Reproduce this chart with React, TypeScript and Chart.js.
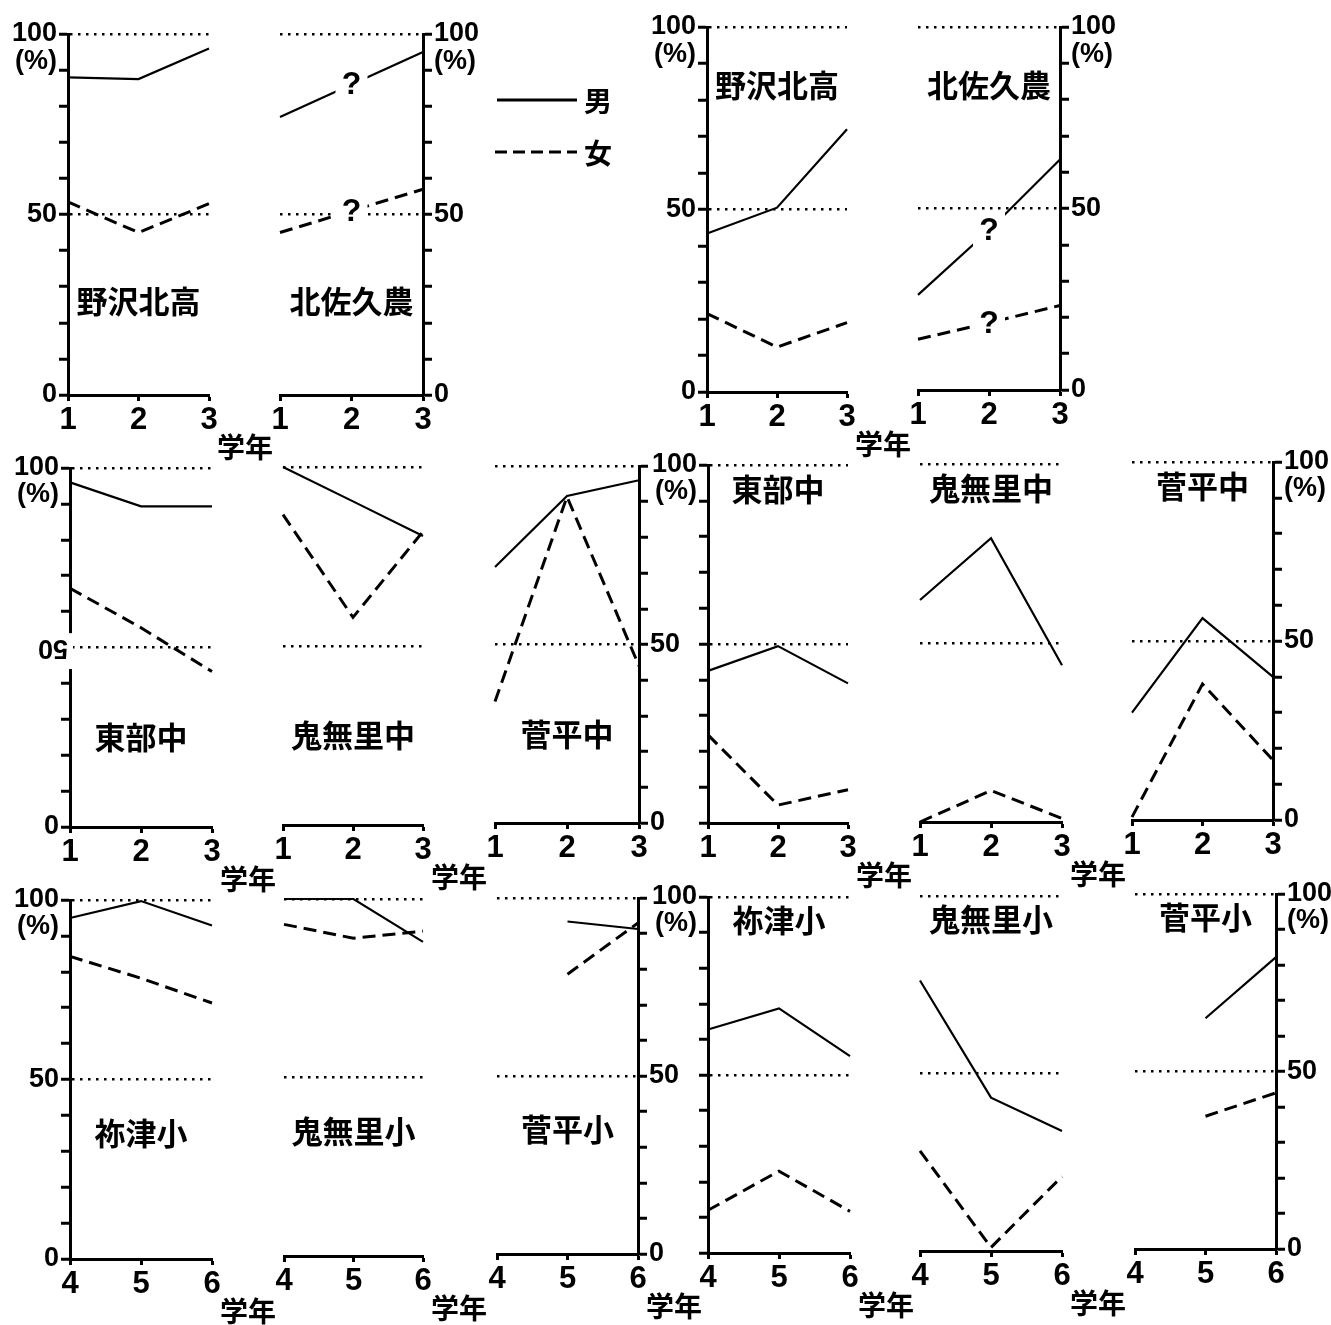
import React, { useEffect, useRef } from 'react';
import { Chart, registerables } from 'chart.js';

Chart.register(...registerables);

// ---------- categories / tick labels ----------
const gradesUpper = ['1', '2', '3'];
const gradesLower = ['4', '5', '6'];
const yTickValues = [0, 10, 20, 30, 40, 50, 60, 70, 80, 90, 92.5, 100];
const referenceLines = [50, 100];
const labelsFull: Record<string, string> = { '100': '100', '92.5': '(%)', '50': '50', '0': '0' };
const labelsTop: Record<string, string> = { '100': '100', '92.5': '(%)' };
const labelsBottom: Record<string, string> = { '50': '50', '0': '0' };
const labelsNo50: Record<string, string> = { '100': '100', '92.5': '(%)', '0': '0' };

// ---------- series values (%) ----------
// top-left figure
const f1NozawaMale = [88, 87.5, 96];
const f1NozawaFemale = [53.5, 45, 53];
const f1KitasakuMale = [77, 86, 95];
const f1KitasakuFemale = [45, 51, 57];
// top-right figure
const f2NozawaMale = [43.4, 50.5, 72];
const f2NozawaFemale = [21.5, 12.3, 19];
const f2KitasakuMale = [26.2, 44, 63.5];
const f2KitasakuFemale = [14, 18.5, 23.3];
// middle-left figure
const f3TobuMale = [96, 89.3, 89.3];
const f3TobuFemale = [66.5, 55.5, 43.3];
const f3KinasaMale = [100, 90.4, 80.7];
const f3KinasaFemale = [86.7, 58, 82];
const f3SugadairaMale = [71.7, 91.6, 96];
const f3SugadairaFemale = [34, 91.4, 44];
// middle-right figure
const f4TobuMale = [42.5, 49.4, 39];
const f4TobuFemale = [24.6, 5, 9.3];
const f4KinasaMale = [62, 79.3, 43.8];
const f4KinasaFemale = [0, 8.8, 1];
const f4SugadairaMale = [30, 56.4, 40];
const f4SugadairaFemale = [0.8, 38, 16.7];
// bottom-left figure
const f5NetsuMale = [95, 99.7, 92.9];
const f5NetsuFemale = [84.3, 78.2, 71.3];
const f5KinasaMale = [100, 100, 88];
const f5KinasaFemale = [92.9, 89, 91];
const f5SugadairaMale = [null, 93.4, 91.3];
const f5SugadairaFemale = [null, 78.6, 93];
// bottom-right figure
const f6NetsuMale = [62.8, 68.7, 55.3];
const f6NetsuFemale = [12, 23, 11.7];
const f6KinasaMale = [76.2, 43.2, 33.8];
const f6KinasaFemale = [28.2, 1, 21];
const f6SugadairaMale = [null, 65, 82.2];
const f6SugadairaFemale = [null, 37.4, 44];

// ---------- fonts ----------
const NUM_FONT = "'Liberation Sans', 'DejaVu Sans Condensed', sans-serif";
const JP_FONT = "'Noto Sans CJK JP', 'Noto Sans CJK SC', sans-serif";

type Axis = 'left' | 'right' | 'none';
type Panel = {
  labels: string[];
  male: (number | null)[];
  female: (number | null)[];
  name: string;
  nameAt: number;
  x1: number; x2: number; yTop: number; yBot: number;
  axis: Axis;
  tickLabels?: Record<string, string>;
  xTitle?: boolean;
  ask?: boolean;
  flip50?: boolean;
};

const PANELS: Panel[] = [
  // top-left
  { labels: gradesUpper, male: f1NozawaMale, female: f1NozawaFemale, name: '野沢北高', nameAt: 26,
    x1: 68, x2: 209, yTop: 34, yBot: 395, axis: 'left', tickLabels: labelsFull, xTitle: true },
  { labels: gradesUpper, male: f1KitasakuMale, female: f1KitasakuFemale, name: '北佐久農', nameAt: 26,
    x1: 280, x2: 423, yTop: 34, yBot: 395, axis: 'right', tickLabels: labelsFull, ask: true },
  // top-right
  { labels: gradesUpper, male: f2NozawaMale, female: f2NozawaFemale, name: '野沢北高', nameAt: 84,
    x1: 707, x2: 847, yTop: 27, yBot: 392, axis: 'left', tickLabels: labelsFull, xTitle: true },
  { labels: gradesUpper, male: f2KitasakuMale, female: f2KitasakuFemale, name: '北佐久農', nameAt: 84,
    x1: 918, x2: 1060, yTop: 27, yBot: 390, axis: 'right', tickLabels: labelsFull, ask: true },
  // middle-left
  { labels: gradesUpper, male: f3TobuMale, female: f3TobuFemale, name: '東部中', nameAt: 25,
    x1: 70, x2: 212, yTop: 468, yBot: 827, axis: 'left', tickLabels: labelsNo50, xTitle: true, flip50: true },
  { labels: gradesUpper, male: f3KinasaMale, female: f3KinasaFemale, name: '鬼無里中', nameAt: 25,
    x1: 283, x2: 423, yTop: 467, yBot: 825, axis: 'none', xTitle: true },
  { labels: gradesUpper, male: f3SugadairaMale, female: f3SugadairaFemale, name: '菅平中', nameAt: 25,
    x1: 495, x2: 639, yTop: 466, yBot: 823, axis: 'right', tickLabels: labelsBottom },
  // middle-right
  { labels: gradesUpper, male: f4TobuMale, female: f4TobuFemale, name: '東部中', nameAt: 93.3,
    x1: 708, x2: 848, yTop: 465, yBot: 823, axis: 'left', tickLabels: labelsTop, xTitle: true },
  { labels: gradesUpper, male: f4KinasaMale, female: f4KinasaFemale, name: '鬼無里中', nameAt: 93.3,
    x1: 920, x2: 1062, yTop: 464, yBot: 822, axis: 'none', xTitle: true },
  { labels: gradesUpper, male: f4SugadairaMale, female: f4SugadairaFemale, name: '菅平中', nameAt: 93.3,
    x1: 1132, x2: 1273, yTop: 462, yBot: 820, axis: 'right', tickLabels: labelsFull },
  // bottom-left
  { labels: gradesLower, male: f5NetsuMale, female: f5NetsuFemale, name: '祢津小', nameAt: 35,
    x1: 70, x2: 212, yTop: 900, yBot: 1259, axis: 'left', tickLabels: labelsFull, xTitle: true },
  { labels: gradesLower, male: f5KinasaMale, female: f5KinasaFemale, name: '鬼無里小', nameAt: 35,
    x1: 284, x2: 423, yTop: 899, yBot: 1256, axis: 'none', xTitle: true },
  { labels: gradesLower, male: f5SugadairaMale, female: f5SugadairaFemale, name: '菅平小', nameAt: 35,
    x1: 497, x2: 638, yTop: 898, yBot: 1254, axis: 'right', tickLabels: labelsBottom, xTitle: true },
  // bottom-right
  { labels: gradesLower, male: f6NetsuMale, female: f6NetsuFemale, name: '祢津小', nameAt: 93.6,
    x1: 708, x2: 850, yTop: 897, yBot: 1253, axis: 'left', tickLabels: labelsTop, xTitle: true },
  { labels: gradesLower, male: f6KinasaMale, female: f6KinasaFemale, name: '鬼無里小', nameAt: 93.6,
    x1: 920, x2: 1062, yTop: 896, yBot: 1251, axis: 'none', xTitle: true },
  { labels: gradesLower, male: f6SugadairaMale, female: f6SugadairaFemale, name: '菅平小', nameAt: 93.6,
    x1: 1135, x2: 1276, yTop: 894, yBot: 1249, axis: 'right', tickLabels: labelsFull },
];

const PL = 20, PT = 22, PB = 26, YW = 60, XH = 44;

function geom(p: Panel) {
  const la = p.axis === 'left' ? YW : 0;
  const ra = p.axis === 'right' ? YW : 0;
  const pr = p.xTitle && p.axis !== 'right' ? 80 : 20;
  const w = PL + la + (p.x2 - p.x1) + ra + pr;
  const h = PT + (p.yBot - p.yTop) + XH + PB;
  return { left: p.x1 - PL - la, top: p.yTop - PT, w, h, pr };
}

const overlayPlugin = {
  id: 'overlay',
  afterDraw(chart: any, _args: any, o: any) {
    const { ctx, chartArea } = chart;
    const xs = chart.scales.x;
    const ys = chart.scales.y;
    ctx.save();
    ctx.textAlign = 'center';
    ctx.textBaseline = 'middle';
    if (o.flip50) {
      const ax = chartArea.left;
      const t = ys.getPixelForValue(54);
      const b = ys.getPixelForValue(44);
      ctx.fillStyle = '#fff';
      ctx.fillRect(ax - 13, t, 16, b - t);
      ctx.fillStyle = '#000';
      ctx.save();
      ctx.translate(ax - 17, ys.getPixelForValue(50));
      ctx.rotate(Math.PI);
      ctx.font = `bold 27px ${NUM_FONT}`;
      ctx.fillText('50', 0, 0);
      ctx.restore();
    }
    if (o.ask) {
      chart.data.datasets.forEach((ds: any) => {
        const v = ds.data[1];
        if (v == null) return;
        const px = xs.getPixelForValue(1);
        const py = ys.getPixelForValue(v);
        ctx.fillStyle = '#fff';
        ctx.fillRect(px - 16, py - 19, 32, 38);
        ctx.fillStyle = '#000';
        ctx.font = `bold 32px 'Liberation Sans', sans-serif`;
        ctx.fillText('?', px, py + 1);
      });
    }
    ctx.fillStyle = '#000';
    if (o.name) {
      ctx.font = `bold 31px ${JP_FONT}`;
      ctx.fillText(o.name, (xs.left + xs.right) / 2, ys.getPixelForValue(o.nameAt));
    }
    if (o.xTitle) {
      ctx.font = `bold 28px ${JP_FONT}`;
      ctx.fillText('学年', xs.right + 36, ys.getPixelForValue(0) + 52);
    }
    ctx.restore();
  },
};

function buildConfig(p: Panel, pr: number): any {
  const tickMap = p.tickLabels || {};
  const hasAxis = p.axis !== 'none';
  return {
    type: 'line',
    data: {
      labels: p.labels,
      datasets: [
        { label: '男', data: p.male, borderColor: '#000', borderWidth: 2.2, pointRadius: 0,
          tension: 0, fill: false, clip: false, spanGaps: false },
        { label: '女', data: p.female, borderColor: '#000', borderWidth: 3, borderDash: [13, 7],
          pointRadius: 0, tension: 0, fill: false, clip: false, spanGaps: false },
      ],
    },
    options: {
      responsive: false,
      animation: false,
      events: [],
      layout: { padding: { left: PL, right: pr, top: PT, bottom: PB } },
      plugins: {
        legend: { display: false },
        tooltip: { enabled: false },
        overlay: { name: p.name, nameAt: p.nameAt, xTitle: !!p.xTitle, ask: !!p.ask, flip50: !!p.flip50 },
      },
      scales: {
        x: {
          type: 'category',
          offset: false,
          afterFit: (s: any) => { s.height = XH; },
          grid: { drawOnChartArea: false, drawTicks: true, tickLength: 6, tickWidth: 3, tickColor: '#000' },
          border: { display: true, width: 3, color: '#000' },
          ticks: { autoSkip: false, maxRotation: 0, padding: 1, color: '#000',
            font: { family: NUM_FONT, size: 31, weight: 'bold' } },
        },
        y: {
          type: 'linear',
          position: p.axis === 'right' ? 'right' : 'left',
          min: 0,
          max: 100,
          afterBuildTicks: (s: any) => { s.ticks = yTickValues.map((value) => ({ value })); },
          afterFit: (s: any) => { s.width = hasAxis ? YW : 0; },
          grid: {
            drawOnChartArea: true,
            drawTicks: hasAxis,
            tickLength: 9,
            tickWidth: 3,
            lineWidth: 2.5,
            color: (c: any) => (c.tick && referenceLines.includes(c.tick.value) ? '#000' : 'rgba(0,0,0,0)'),
            tickColor: (c: any) => (c.tick && c.tick.value % 10 === 0 ? '#000' : 'rgba(0,0,0,0)'),
          },
          border: { display: hasAxis, width: 3, color: '#000', dash: [2.5, 5.5] },
          ticks: {
            display: hasAxis,
            autoSkip: false,
            padding: 2,
            color: '#000',
            font: { family: NUM_FONT, size: 27, weight: 'bold' },
            callback: (v: any) => tickMap[String(v)] ?? '',
          },
        },
      },
    },
    plugins: [overlayPlugin],
  };
}

export default function App() {
  const refs = useRef<(HTMLCanvasElement | null)[]>([]);

  useEffect(() => {
    const charts = PANELS.map((p, i) => {
      const g = geom(p);
      return new Chart(refs.current[i] as HTMLCanvasElement, buildConfig(p, g.pr));
    });
    return () => charts.forEach((c) => c.destroy());
  }, []);

  return (
    <div style={{ position: 'absolute', left: 0, top: 0, width: 1331, height: 1325, overflow: 'hidden', background: '#fff' }}>
      {PANELS.map((p, i) => {
        const g = geom(p);
        return (
          <canvas
            key={i}
            ref={(el) => { refs.current[i] = el; }}
            width={g.w}
            height={g.h}
            style={{ position: 'absolute', left: g.left, top: g.top, width: g.w, height: g.h }}
          />
        );
      })}
      <svg width={100} height={90} style={{ position: 'absolute', left: 490, top: 80 }}>
        <line x1={7} y1={20} x2={87} y2={20} stroke="#000" strokeWidth={3} />
        <line x1={5} y1={72} x2={87} y2={72} stroke="#000" strokeWidth={3} strokeDasharray="12 6" />
      </svg>
      <div style={{ position: 'absolute', left: 584, top: 84, fontFamily: JP_FONT, fontWeight: 'bold', fontSize: 28, lineHeight: '32px' }}>男</div>
      <div style={{ position: 'absolute', left: 584, top: 136, fontFamily: JP_FONT, fontWeight: 'bold', fontSize: 28, lineHeight: '32px' }}>女</div>
    </div>
  );
}
